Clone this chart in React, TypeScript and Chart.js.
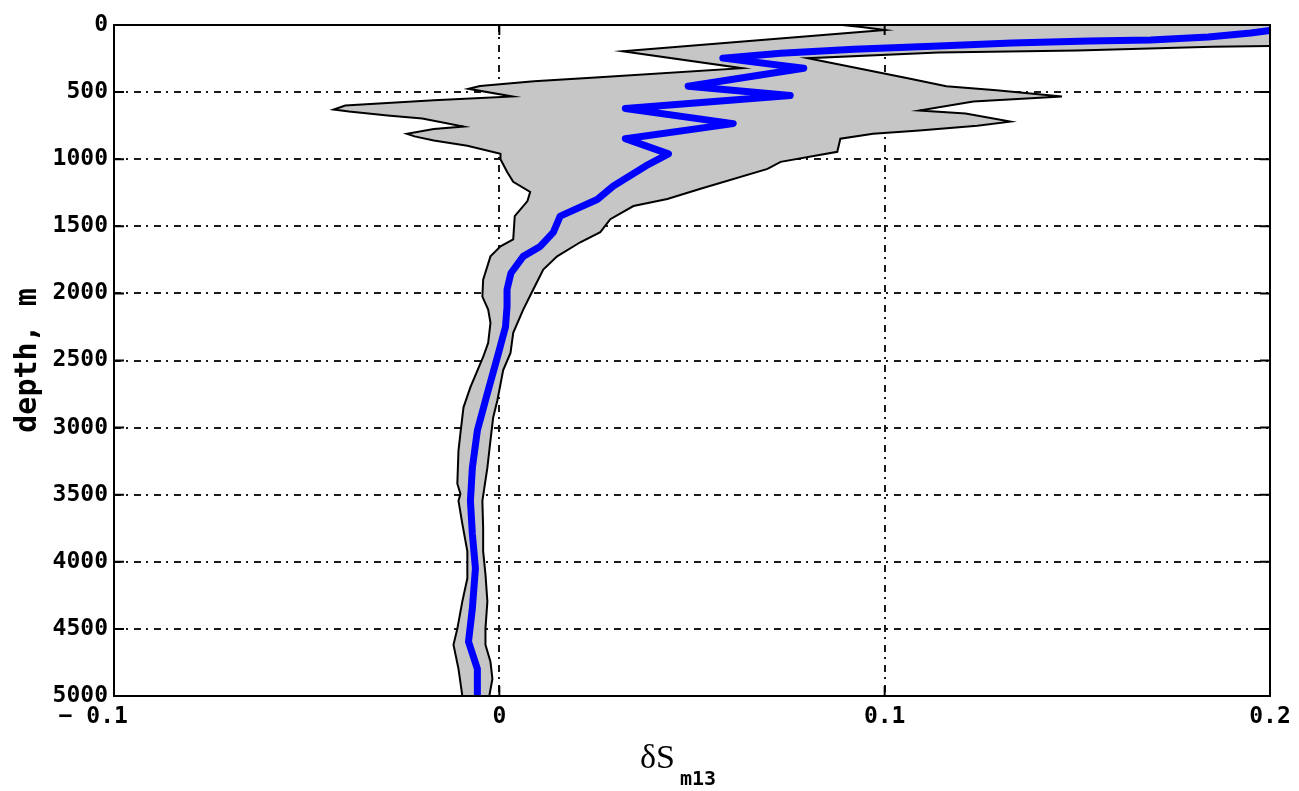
import React, { useEffect, useRef } from 'react';
import { Chart, registerables } from 'chart.js';

Chart.register(...registerables);

// ---- axis ticks ----
const xTickValues = [-0.1, 0, 0.1, 0.2];
const xTickLabels = ['\u2212 0.1   ', '0', '0.1', '0.2'];
const yTickValues = [0, 500, 1000, 1500, 2000, 2500, 3000, 3500, 4000, 4500, 5000];
const yTickLabels = ['0', '500', '1000', '1500', '2000', '2500', '3000', '3500', '4000', '4500', '5000'];

// ---- mean profile (blue line) ----
const meanDepth = [0, 40, 60, 90, 112, 120, 135, 157, 180, 210, 247, 322, 457, 525, 622, 735, 847, 960, 1050, 1200, 1300, 1424, 1545, 1650, 1724, 1850, 1971, 2100, 2249, 2474, 2744, 3021, 3300, 3546, 3793, 4048, 4348, 4595, 4798, 5000];
const meanValue = [0.21, 0.2, 0.195, 0.184, 0.169, 0.153, 0.133, 0.114, 0.092, 0.073, 0.058, 0.079, 0.049, 0.0755, 0.0327, 0.0607, 0.0327, 0.0439, 0.038, 0.0296, 0.0254, 0.0158, 0.014, 0.0106, 0.0062, 0.003, 0.002, 0.002, 0.0016, -0.0005, -0.0031, -0.0057, -0.007, -0.0075, -0.007, -0.0062, -0.007, -0.008, -0.0057, -0.0057];

// ---- envelope: lower (left) boundary ----
const lowerDepth = [0, 15, 37, 195, 322, 390, 420, 455, 475, 532, 560, 600, 630, 645, 675, 697, 757, 775, 810, 830, 860, 900, 960, 1000, 1094, 1169, 1244, 1312, 1424, 1597, 1649, 1724, 1897, 2024, 2121, 2219, 2369, 2474, 2699, 2849, 3043, 3171, 3418, 3493, 3546, 3718, 3921, 4123, 4295, 4498, 4618, 4798, 5000];
const lowerValue = [0.089, 0.094, 0.1, 0.032, 0.063, 0.026, 0.009, -0.005, -0.008, 0.0034, -0.017, -0.04, -0.043, -0.039, -0.029, -0.02, -0.0093, -0.017, -0.024, -0.022, -0.017, -0.0083, 0.0003, 0.0003, 0.002, 0.0036, 0.008, 0.0073, 0.004, 0.0036, 0.0003, -0.0023, -0.0042, -0.0044, -0.0029, -0.0023, -0.0029, -0.0042, -0.0075, -0.0093, -0.0101, -0.0106, -0.0109, -0.0101, -0.0106, -0.0096, -0.0083, -0.0083, -0.0096, -0.0109, -0.0119, -0.0106, -0.0096];

// ---- envelope: upper (right) boundary ----
const upperDepth = [0, 150, 162, 190, 205, 247, 270, 397, 457, 487, 532, 570, 637, 660, 720, 750, 787, 810, 847, 945, 1020, 1072, 1222, 1297, 1349, 1447, 1544, 1619, 1724, 1822, 1971, 2121, 2294, 2444, 2571, 2796, 2924, 3096, 3298, 3546, 3748, 3921, 4093, 4295, 4498, 4618, 4745, 4873, 5000];
const upperValue = [0.24, 0.22, 0.185, 0.15, 0.114, 0.08, 0.084, 0.106, 0.116, 0.129, 0.146, 0.123, 0.109, 0.121, 0.1326, 0.124, 0.109, 0.097, 0.0885, 0.0877, 0.073, 0.0696, 0.052, 0.0436, 0.0348, 0.0288, 0.0262, 0.021, 0.015, 0.0114, 0.0088, 0.0062, 0.0036, 0.0029, 0.001, -0.0005, -0.0016, -0.0023, -0.0031, -0.0044, -0.0042, -0.0042, -0.0036, -0.0031, -0.0036, -0.0036, -0.0023, -0.0018, -0.0026];

const MONO = '"DejaVu Sans Mono", monospace';

export default function App() {
  const ref = useRef<HTMLCanvasElement>(null);

  useEffect(() => {
    const canvas = ref.current;
    if (!canvas) return;

    const meanPts = meanDepth.map((d, i) => ({ x: meanValue[i], y: d }));
    const bandPts = [
      ...lowerDepth.map((d, i) => ({ x: lowerValue[i], y: d })),
      ...upperDepth.map((d, i) => ({ x: upperValue[i], y: d })).reverse(),
    ];

    const framePlugin = {
      id: 'frame',
      afterDatasetsDraw(chart: any) {
        const { ctx, chartArea: a, scales } = chart;
        const xs = scales.x;
        const ys = scales.y;
        ctx.save();
        ctx.strokeStyle = '#000';
        ctx.lineWidth = 2;
        ctx.setLineDash([]);
        ctx.beginPath();
        for (const v of yTickValues) {
          const py = ys.getPixelForValue(v);
          ctx.moveTo(a.left, py);
          ctx.lineTo(a.left + 10, py);
          ctx.moveTo(a.right, py);
          ctx.lineTo(a.right - 10, py);
        }
        for (const v of xTickValues) {
          const px = xs.getPixelForValue(v);
          ctx.moveTo(px, a.top);
          ctx.lineTo(px, a.top + 10);
          ctx.moveTo(px, a.bottom);
          ctx.lineTo(px, a.bottom - 10);
        }
        ctx.stroke();
        ctx.strokeRect(a.left, a.top, a.right - a.left, a.bottom - a.top);
        ctx.restore();
      },
      afterDraw(chart: any) {
        const { ctx, chartArea: a } = chart;
        ctx.save();
        ctx.fillStyle = '#000';
        ctx.textAlign = 'left';
        ctx.textBaseline = 'alphabetic';
        ctx.font = '34px "Liberation Serif", serif';
        const x0 = a.left + 526;
        const y0 = a.bottom + 72;
        ctx.fillText('\u03b4S', x0, y0);
        const w = ctx.measureText('\u03b4S').width;
        ctx.font = 'bold 20px ' + MONO;
        ctx.fillText('m13', x0 + w + 5, y0 + 17);
        ctx.restore();
      },
    };

    const chart = new Chart(canvas, {
      type: 'scatter',
      data: {
        datasets: [
          {
            label: 'mean',
            data: meanPts,
            showLine: true,
            borderColor: '#0000ff',
            borderWidth: 7,
            borderJoinStyle: 'round',
            borderCapStyle: 'round',
            pointRadius: 0,
            fill: false,
            tension: 0,
          } as any,
          {
            label: 'range',
            data: bandPts,
            showLine: true,
            borderColor: '#000000',
            borderWidth: 2,
            backgroundColor: '#c6c6c6',
            pointRadius: 0,
            fill: 'shape',
            tension: 0,
          } as any,
        ],
      },
      options: {
        animation: false,
        responsive: false,
        events: [],
        layout: { padding: { left: 0, right: 29, top: 25, bottom: 0 } },
        plugins: {
          legend: { display: false },
          tooltip: { enabled: false },
        },
        scales: {
          x: {
            type: 'linear',
            min: -0.1,
            max: 0.2,
            afterBuildTicks: (s: any) => {
              s.ticks = xTickValues.map((v) => ({ value: v }));
            },
            afterFit: (s: any) => {
              s.height = 95;
            },
            ticks: {
              autoSkip: false,
              maxRotation: 0,
              padding: 7,
              color: '#000',
              font: { family: MONO, weight: 'bold', size: 23 },
              callback: (_v: any, i: number) => xTickLabels[i],
            },
            grid: {
              color: '#1a1a1a',
              lineWidth: 2,
              drawTicks: false,
            },
            border: { display: false, dash: [7, 5, 2, 6] },
          },
          y: {
            type: 'linear',
            reverse: true,
            min: 0,
            max: 5000,
            afterBuildTicks: (s: any) => {
              s.ticks = yTickValues.map((v) => ({ value: v }));
            },
            afterFit: (s: any) => {
              s.width = 114;
            },
            ticks: {
              autoSkip: false,
              padding: 6,
              color: '#000',
              font: { family: MONO, weight: 'bold', size: 23 },
              callback: (_v: any, i: number) => yTickLabels[i],
            },
            grid: {
              color: '#1a1a1a',
              lineWidth: 2,
              drawTicks: false,
            },
            border: { display: false, dash: [7, 5, 2, 6] },
            title: {
              display: true,
              text: 'depth, m',
              color: '#000',
              font: { family: MONO, weight: 'bold', size: 30 },
              padding: { top: 10, bottom: 0 },
            },
          },
        },
      } as any,
      plugins: [framePlugin],
    });

    return () => chart.destroy();
  }, []);

  return (
    <div style={{ position: 'absolute', left: 0, top: 0, width: 1299, height: 791, background: '#fff' }}>
      <canvas ref={ref} width={1299} height={791} style={{ display: 'block' }} />
    </div>
  );
}
